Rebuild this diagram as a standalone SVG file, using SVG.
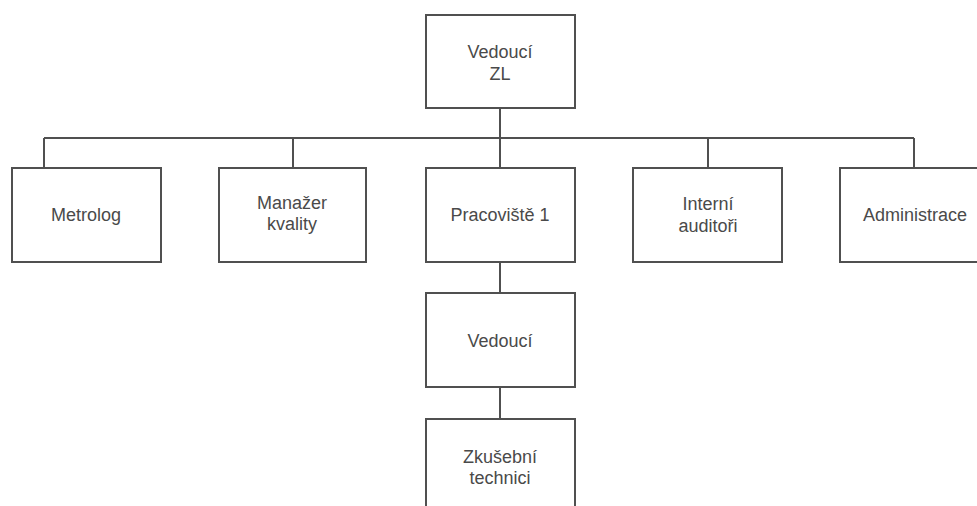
<svg xmlns="http://www.w3.org/2000/svg" width="977" height="506" viewBox="0 0 977 506">
  <style>
    .box { fill: #ffffff; stroke: #505050; stroke-width: 2; }
    .link { fill: none; stroke: #505050; stroke-width: 2; }
    .label { font-family: "Liberation Sans", Arial, sans-serif; font-size: 18px; fill: #4a4a4a; text-anchor: middle; }
  </style>
  <rect width="977" height="506" fill="#ffffff"/>

  <!-- connectors -->
  <g id="connectors">
    <line class="link" x1="500" y1="108" x2="500" y2="168"/>
    <line class="link" x1="44" y1="138" x2="914" y2="138"/>
    <line class="link" x1="44" y1="138" x2="44" y2="168"/>
    <line class="link" x1="293" y1="138" x2="293" y2="168"/>
    <line class="link" x1="708" y1="138" x2="708" y2="168"/>
    <line class="link" x1="914" y1="138" x2="914" y2="168"/>
    <line class="link" x1="500" y1="262" x2="500" y2="293"/>
    <line class="link" x1="500" y1="387" x2="500" y2="419"/>
  </g>

  <!-- nodes -->
  <g id="vedouci-zl">
    <rect class="box" x="426" y="15" width="149" height="93"/>
    <text class="label" x="500" y="58">Vedoucí</text>
    <text class="label" x="500" y="80">ZL</text>
  </g>
  <g id="metrolog">
    <rect class="box" x="12" y="168" width="149" height="94"/>
    <text class="label" x="86" y="221">Metrolog</text>
  </g>
  <g id="manazer-kvality">
    <rect class="box" x="219" y="168" width="147" height="94"/>
    <text class="label" x="292" y="209">Manažer</text>
    <text class="label" x="292" y="230">kvality</text>
  </g>
  <g id="pracoviste-1">
    <rect class="box" x="426" y="168" width="149" height="94"/>
    <text class="label" x="500" y="221">Pracoviště 1</text>
  </g>
  <g id="interni-auditori">
    <rect class="box" x="633" y="168" width="149" height="94"/>
    <text class="label" x="708" y="210">Interní</text>
    <text class="label" x="708" y="232">auditoři</text>
  </g>
  <g id="administrace">
    <rect class="box" x="840" y="168" width="149" height="94"/>
    <text class="label" x="915" y="221">Administrace</text>
  </g>
  <g id="vedouci">
    <rect class="box" x="426" y="293" width="149" height="94"/>
    <text class="label" x="500" y="347">Vedoucí</text>
  </g>
  <g id="zkusebni-technici">
    <rect class="box" x="426" y="419" width="149" height="94"/>
    <text class="label" x="500" y="463">Zkušební</text>
    <text class="label" x="500" y="484">technici</text>
  </g>
</svg>
